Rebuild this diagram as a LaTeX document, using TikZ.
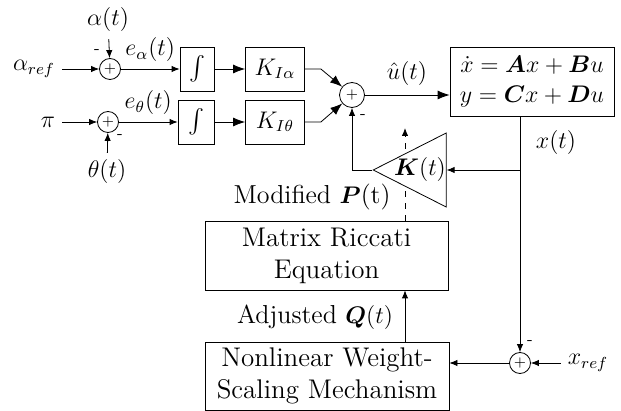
\documentclass[tikz,border=0pt]{standalone}
\usepackage{amsmath,bm}
\usetikzlibrary{arrows.meta,shapes.geometric,backgrounds}

\begin{document}
\begin{tikzpicture}[x=0.5pt, y=-0.5pt, >={Latex[length=4pt,width=3.2pt]},
  every node/.style={font=\fontsize{11.5}{13}\selectfont},
  block/.style={draw, rectangle, inner sep=1pt},
  textblock/.style={block, align=center, font=\fontsize{13.5}{16}\selectfont},
  sumnode/.style={draw, circle, inner sep=0pt, minimum size=#1, font=\scriptsize},
  sumnode/.default=10.5pt,
  minus/.style={inner sep=0pt, font=\footnotesize},
  big/.style={-{Latex[length=6pt,width=4.5pt]}}]

\useasboundingbox (0,0) rectangle (621,411);

% Define the nodes with coordinates
\node (AREF) at (34,69) {$\alpha_{ref}$};
\node (PI) at (48,122) {$\pi$};
\node (ALPHA) at (108,20) {$\alpha(t)$};
\node (THETA) at (107,172) {$\theta(t)$};
\node[sumnode] (S1) at (110,69) {$+$};
\node[sumnode] (S2) at (108,122) {$+$};
\node[block, minimum width=17pt, minimum height=22pt] (INT1) at (197,69) {$\int$};
\node[block, minimum width=18pt, minimum height=22pt] (INT2) at (196,122) {$\int$};
\node[block, minimum width=29.5pt, minimum height=22pt] (KIA) at (275,69) {$K_{I\alpha}$};
\node[block, minimum width=29.5pt, minimum height=22pt] (KIT) at (275,122) {$K_{I\theta}$};
\node[sumnode=12.5pt] (S3) at (352,95) {$+$};
\node[block, minimum width=82pt, minimum height=34.5pt, align=center,
  font=\fontsize{12.5}{15}\selectfont] (SS) at (532,81.5)
  {$\dot{x} = \bm{A}x + \bm{B}u$\\ $y = \bm{C}x + \bm{D}u$};
\node[draw, fill=white, isosceles triangle, isosceles triangle stretches, shape border rotate=180,
  minimum width=37pt, minimum height=36.5pt, inner sep=0pt] (KT) at (423.5,170) {};
\node (KTL) at (420,170) {$\bm{K}(t)$};
\node[textblock, minimum width=121.5pt, minimum height=34.5pt] (RIC) at (326.5,255.5)
  {Matrix Riccati\\ Equation};
\node[textblock, minimum width=122pt, minimum height=34pt] (NWS) at (327,376)
  {Nonlinear Weight-\\ Scaling Mechanism};
\node[sumnode] (S4) at (520,363) {$+$};
\node (XREF) at (588,363) {$x_{ref}$};
\coordinate (ADJ) at (405,128);

% Labels and signs
\node[font=\fontsize{13}{15}\selectfont] at (312,197) {Modified $\bm{P}$(t)};
\node[font=\fontsize{13}{15}\selectfont] at (315,317) {Adjusted $\bm{Q}(t)$};
\node[font=\fontsize{12.5}{15}\selectfont] (UHAT) at (407,74) {$\hat{u}(t)$};
\node[font=\fontsize{12.5}{15}\selectfont] at (556,143) {$x(t)$};
\node[minus] at (97,52) {-};
\node[minus] at (120,137) {-};
\node[minus] at (363,117) {-};
\node[minus] at (530,343) {-};

% Draw the connections
\draw[->] (AREF) -- (S1);
\draw[->] (ALPHA) -- (S1);
\draw[->] (S1) -- (INT1) node[midway, above] {$e_\alpha(t)$};
\draw[big] (INT1) -- (KIA);
\draw[big] (KIA.east) -- ++(16,0) -- (S3);
\draw[->] (PI) -- (S2);
\draw[->] (THETA) -- (S2);
\draw[->] (S2) -- (INT2) node[midway, above] {$e_\theta(t)$};
\draw[big] (INT2) -- (KIT);
\draw[big] (KIT.east) -- ++(16,0) -- (S3);
\draw[big] (S3) -- (S3 -| SS.west);
\draw[->] (S4 |- SS.south) -- (S4);
\draw[->] (S4 |- KT.east) -- (KT.east);
\draw[->] (KT.apex) -| (S3.south);
\begin{pgfonlayer}{background}
\draw[dashed, ->] (RIC.north -| ADJ) -- (ADJ);
\end{pgfonlayer}
\draw[->] (NWS.north -| ADJ) -- (RIC.south -| ADJ);
\draw[->] (XREF) -- (S4);
\draw[->] (S4) -- (S4 -| NWS.east);

\end{tikzpicture}
\end{document}
